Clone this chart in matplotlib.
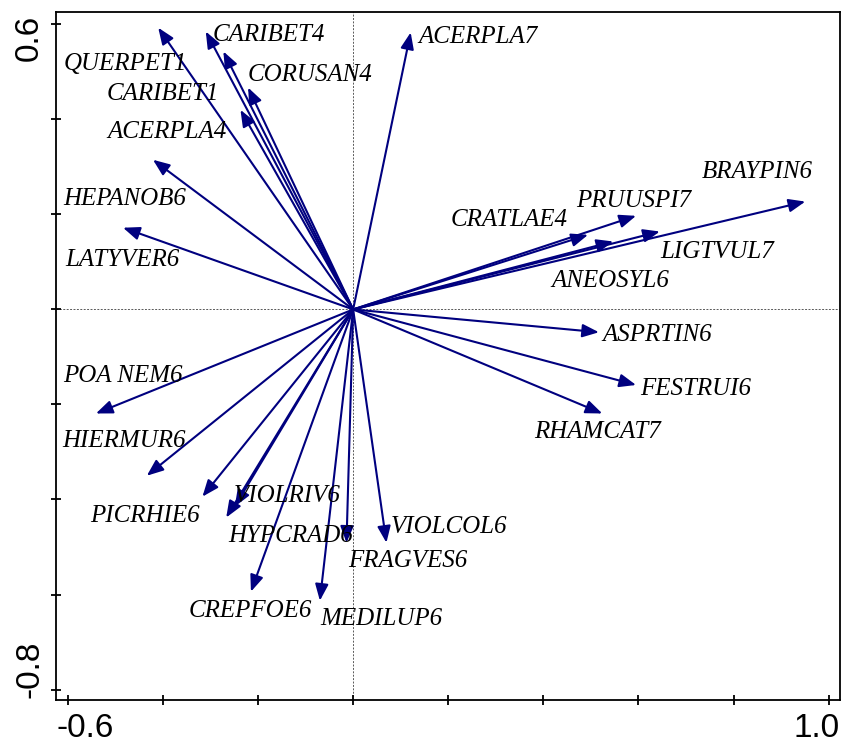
import matplotlib
matplotlib.use('Agg')
import numpy as np
import matplotlib.pyplot as plt

# species scores on the first two ordination axes
species = ['QUERPET1', 'CARIBET4', 'CARIBET1', 'CORUSAN4', 'ACERPLA4',
           'HEPANOB6', 'LATYVER6', 'ACERPLA7', 'BRAYPIN6', 'PRUUSPI7',
           'CRATLAE4', 'LIGTVUL7', 'ANEOSYL6', 'ASPRTIN6', 'FESTRUI6',
           'RHAMCAT7', 'POA NEM6', 'HIERMUR6', 'PICRHIE6', 'VIOLRIV6',
           'HYPCRAD6', 'FRAGVES6', 'CREPFOE6', 'MEDILUP6', 'VIOLCOL6']
axis1 = [-0.410, -0.310, -0.273, -0.221, -0.237,
         -0.421, -0.484, 0.121, 0.951, 0.595,
         0.494, 0.645, 0.547, 0.517, 0.595,
         0.524, -0.541, -0.434, -0.317, -0.249,
         -0.267, -0.014, -0.215, -0.070, 0.070]
axis2 = [0.593, 0.585, 0.543, 0.467, 0.420,
         0.315, 0.172, 0.583, 0.227, 0.197,
         0.157, 0.164, 0.143, -0.048, -0.159,
         -0.219, -0.219, -0.350, -0.394, -0.415,
         -0.438, -0.491, -0.594, -0.613, -0.491]

# where each label sits (left edge, baseline), in data units
label_pos = {
    'QUERPET1': (-0.608, 0.504), 'CARIBET4': (-0.295, 0.564),
    'CARIBET1': (-0.518, 0.441), 'CORUSAN4': (-0.221, 0.481),
    'ACERPLA4': (-0.516, 0.361), 'HEPANOB6': (-0.610, 0.220),
    'LATYVER6': (-0.606, 0.092), 'ACERPLA7': (0.137, 0.560),
    'BRAYPIN6': (0.733, 0.276), 'PRUUSPI7': (0.470, 0.216),
    'CRATLAE4': (0.205, 0.176), 'LIGTVUL7': (0.646, 0.109),
    'ANEOSYL6': (0.417, 0.048), 'ASPRTIN6': (0.524, -0.066),
    'FESTRUI6': (0.604, -0.180), 'RHAMCAT7': (0.380, -0.271),
    'POA NEM6': (-0.610, -0.152), 'HIERMUR6': (-0.611, -0.289),
    'PICRHIE6': (-0.554, -0.448), 'VIOLRIV6': (-0.252, -0.405),
    'HYPCRAD6': (-0.263, -0.490), 'FRAGVES6': (-0.011, -0.542),
    'CREPFOE6': (-0.347, -0.647), 'MEDILUP6': (-0.069, -0.664),
    'VIOLCOL6': (0.079, -0.471),
}

x_ticks = [-0.6, -0.4, -0.2, 0.0, 0.2, 0.4, 0.6, 0.8, 1.0]
y_ticks = [-0.8, -0.6, -0.4, -0.2, 0.0, 0.2, 0.4, 0.6]

fig = plt.figure(figsize=(8.43, 7.47), dpi=100)
ax = fig.add_axes([56 / 843, 47 / 747, 784 / 843, 688 / 747])

ax.set_xlim(-0.625, 1.024)
ax.set_ylim(-0.822, 0.626)

# zero lines
ax.axhline(0, color='0.35', lw=0.7, ls=(0, (2, 1.5)), zorder=1)
ax.axvline(0, color='0.35', lw=0.7, ls=(0, (2, 1.5)), zorder=1)

arrow_color = '#00007f'
for name, x, y in zip(species, axis1, axis2):
    ax.annotate('', xy=(x, y), xytext=(0, 0),
                arrowprops=dict(arrowstyle='-|>,head_length=0.5,head_width=0.2',
                                color=arrow_color, lw=1.5, mutation_scale=20,
                                shrinkA=0, shrinkB=0),
                zorder=3)
    lx, ly = label_pos[name]
    ax.text(lx, ly, name, ha='left', va='baseline', fontsize=18,
            family='Liberation Serif', style='italic', color='black', zorder=4)

# ticks without labels, only the extremes get text
ax.set_xticks(x_ticks)
ax.set_yticks(y_ticks)
ax.set_xticklabels([])
ax.set_yticklabels([])
ax.tick_params(direction='inout', length=7, width=1.3, color='black')
for s in ax.spines.values():
    s.set_linewidth(1.3)

tick_font = dict(family='Liberation Sans', fontsize=24)
ax.text(0.001, -0.019, '-0.6', transform=ax.transAxes, ha='left', va='top', **tick_font)
ax.text(1.0, -0.019, '1.0', transform=ax.transAxes, ha='right', va='top', **tick_font)
ax.text(-0.014, 0.996, '0.6', transform=ax.transAxes, ha='right', va='top',
        rotation=90, **tick_font)
ax.text(-0.014, 0.003, '-0.8', transform=ax.transAxes, ha='right', va='bottom',
        rotation=90, **tick_font)

fig.savefig('out.png', dpi=100)
